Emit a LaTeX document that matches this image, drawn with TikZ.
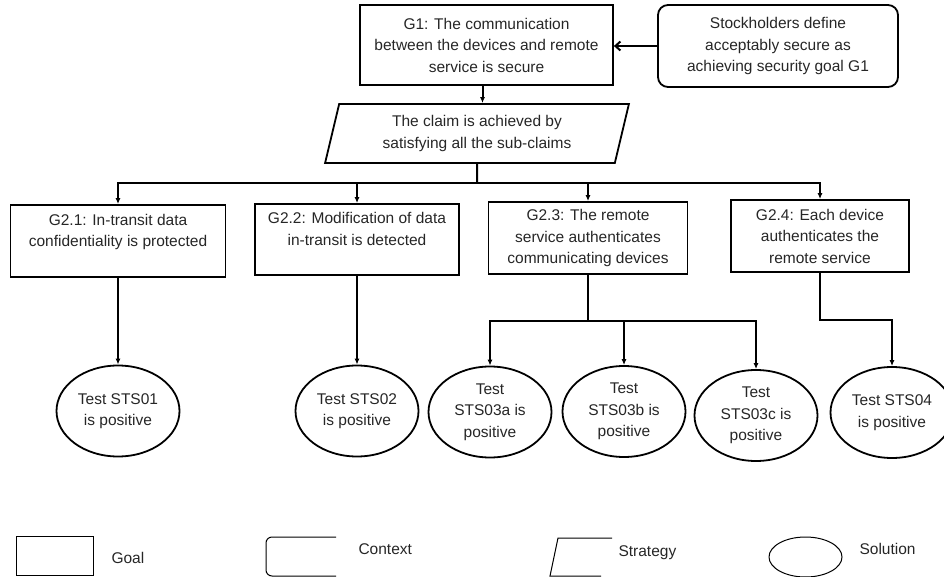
\documentclass[tikz,border=0pt]{standalone}
\usepackage{fontspec}
\setmainfont{Liberation Sans}
\usetikzlibrary{arrows.meta, shapes.geometric}

\begin{document}
\begin{tikzpicture}[x=1pt, y=-1pt,
		every node/.style={font=\fontsize{15.5}{21.5}\selectfont, text=black!85, align=center},
		goalbox/.style={draw=black, line width=1.8pt, rectangle, inner sep=0pt},
		ctxbox/.style={draw=black, line width=1.8pt, rectangle, rounded corners=10pt, inner sep=0pt},
		stratbox/.style={draw=black, line width=1.8pt, trapezium, trapezium left angle=75, trapezium right angle=105, trapezium stretches=true, inner sep=0pt},
		solnode/.style={draw=black, line width=1.8pt, ellipse, minimum width=123pt, minimum height=91pt, inner sep=0pt},
		wire/.style={line width=2pt},
		conn/.style={wire, -{Latex[length=6pt, width=5pt]}},
		legline/.style={line width=1pt}]
		\useasboundingbox (0,0) rectangle (944,577);
		
		% Top goal and context
		\node[goalbox, minimum width=253pt, minimum height=80pt] (g1) at (486.5,45) {G1: The communication\\between the devices and remote\\service is secure};
		\node[ctxbox, minimum width=240pt, minimum height=82pt] (ctx) at (778,46) {Stockholders define\\acceptably secure as\\achieving security goal G1};
		\draw[wire, -{Straight Barb[length=5pt, width=9pt]}] (ctx.west) -- (ctx.west -| g1.east);
		
		% Strategy
		\node[stratbox, minimum width=304pt, minimum height=59pt] (str) at (477,133.5) {The claim is achieved by\\satisfying all the sub-claims};
		\draw[conn] (g1.south) ++(-4,0) coordinate (g1out) -- (g1out |- str.north);
		
		% Sub-goals
		\node[goalbox, minimum width=215pt, minimum height=72pt] (g21) at (118,241) {G2.1: In-transit data\\confidentiality is protected\\\mbox{}};
		\node[goalbox, minimum width=204pt, minimum height=71pt] (g22) at (357,239.5) {G2.2: Modification of data\\in-transit is detected\\\mbox{}};
		\node[goalbox, minimum width=199pt, minimum height=72pt] (g23) at (588,238) {G2.3: The remote\\service authenticates\\communicating devices};
		\node[goalbox, minimum width=178pt, minimum height=72pt] (g24) at (820,236) {G2.4: Each device\\authenticates the\\remote service};
		
		\coordinate (bus) at (477,183);
		\draw[wire] (str.south) -- (bus);
		\foreach \g in {g21, g22, g23, g24}
			\draw[conn] (bus) -| (\g.north);
		
		% Solutions
		\node[solnode] (s01) at (118,411) {Test STS01\\is positive};
		\node[solnode] (s02) at (357,411) {Test STS02\\is positive};
		\node[solnode] (s03a) at (490,412) {Test\\STS03a is\\positive};
		\node[solnode] (s03b) at (624,411.5) {Test\\STS03b is\\positive};
		\node[solnode] (s03c) at (756,415.5) {Test\\STS03c is\\positive};
		\node[solnode] (s04) at (892,412.5) {Test STS04\\is positive};
		
		\draw[conn] (g21) -- (s01);
		\draw[conn] (g22) -- (s02);
		\coordinate (fork23) at (588,321);
		\draw[wire] (g23.south) -- (fork23);
		\foreach \s in {s03a, s03b, s03c}
			\draw[conn] (fork23) -| (\s.north);
		\coordinate (fork24) at (820,320);
		\draw[conn] (g24.south) -- (fork24) -| (s04.north);
		
		% Legend
		\node[draw=black, line width=1pt, minimum width=77pt, minimum height=39pt, inner sep=0pt] (lgoal) at (54.5,555.5) {};
		\node[anchor=west] (tgoal) at (108,558) {Goal};
		\draw[legline, rounded corners=6pt] (336,537) -- (266,537) -- (266,576) -- (336,576);
		\node[anchor=west] (tctx) at (355,549) {Context};
		\draw[legline] (612,538) -- (558,538) -- (550,576) -- (601,576);
		\node[anchor=west] (tstr) at (615,553) {Strategy};
		\node[draw=black, line width=1pt, ellipse, minimum width=73pt, minimum height=40pt, inner sep=0pt] (lsol) at (805.5,557) {};
		\node[anchor=west] (tsol) at (856,549) {Solution};
	\end{tikzpicture}
\end{document}
